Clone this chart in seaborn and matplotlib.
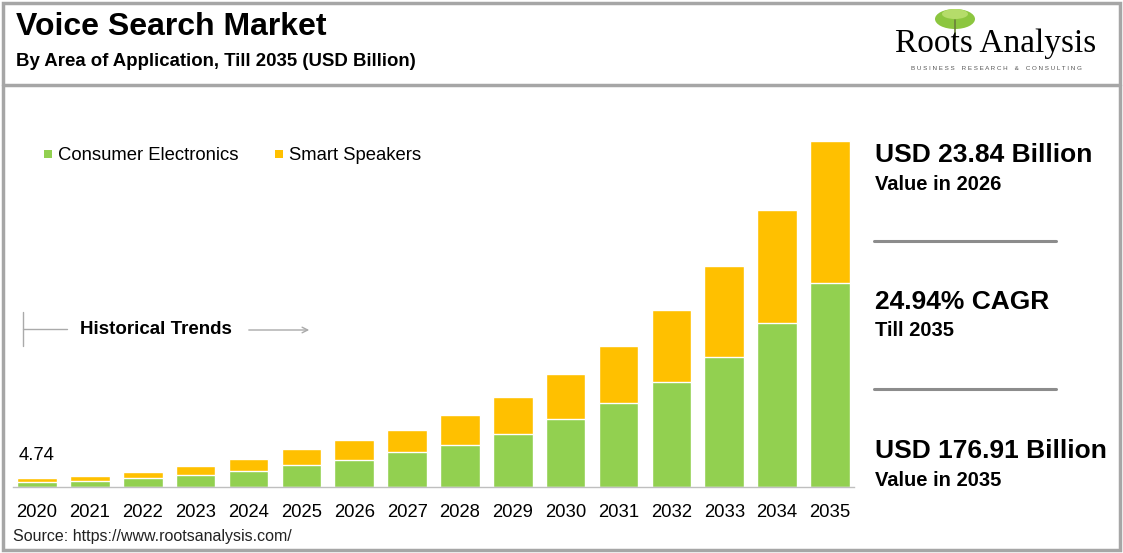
import numpy as np
import pandas as pd
import matplotlib.pyplot as plt
import seaborn as sns
from matplotlib.patches import Rectangle, Ellipse
from matplotlib.lines import Line2D

# dados (USD bilhoes)
years = [str(y) for y in range(2020, 2036)]
consumer_electronics = [2.7, 3.3, 4.8, 6.3, 8.4, 11.5, 14.0, 17.7, 21.6, 27.3, 34.6, 42.8, 53.5, 66.6, 83.7, 104.5]
smart_speakers = [2.04, 2.3, 2.9, 4.3, 5.8, 7.8, 9.84, 11.4, 15.2, 18.7, 23.2, 29.3, 37.0, 46.4, 57.9, 72.41]
first_label = '4.74'

green = '#92D050'
gold = '#FFC000'

df = pd.DataFrame({'Ano': years,
                   'Consumer Electronics': consumer_electronics,
                   'Smart Speakers': smart_speakers})
df['Total'] = df['Consumer Electronics'] + df['Smart Speakers']

sns.set_style('white')
plt.rcParams['font.family'] = ['Liberation Sans', 'DejaVu Sans']
plt.rcParams['text.color'] = 'black'

W, H = 1123, 553
fig = plt.figure(figsize=(W / 100, H / 100), dpi=100)

def fx(px):
    return px / W

def fy(py):
    return 1 - py / H

ax = fig.add_axes([fx(13.2), fy(487), fx(853.8 - 13.2), (487 - 130) / H])
sns.barplot(data=df, x='Ano', y='Total', color=gold, width=0.75, saturation=1,
            edgecolor='white', linewidth=1, ax=ax)
sns.barplot(data=df, x='Ano', y='Consumer Electronics', color=green, width=0.75, saturation=1,
            edgecolor='white', linewidth=1, ax=ax)
ax.set_xlim(-0.45, 15.45)
ax.set_ylim(0, 182.5)
ax.set_xlabel('')
ax.set_ylabel('')
ax.set_yticks([])
for s in ['top', 'right', 'left']:
    ax.spines[s].set_visible(False)
ax.spines['bottom'].set_color('#BFBFBF')
ax.spines['bottom'].set_linewidth(1)
ax.tick_params(axis='x', length=0, pad=12, labelsize=13.3, labelcolor='black')
ax.patch.set_alpha(0)

ax.annotate(first_label, (0, df['Total'].iloc[0]), xytext=(0, 10), textcoords='offset points',
            ha='center', va='bottom', fontsize=13.3)

# legenda
fig.patches.append(Rectangle((fx(44), fy(158)), fx(8), 8 / H, transform=fig.transFigure,
                             facecolor=green, edgecolor='none'))
fig.text(fx(58), fy(155), 'Consumer Electronics', fontsize=13.3, va='center')
fig.patches.append(Rectangle((fx(275), fy(158)), fx(8), 8 / H, transform=fig.transFigure,
                             facecolor=gold, edgecolor='none'))
fig.text(fx(289), fy(155), 'Smart Speakers', fontsize=13.3, va='center')

# historical trends
gray = '#AAAAAA'
fig.add_artist(Line2D([fx(23), fx(23)], [fy(312), fy(346)], color=gray, lw=1))
fig.add_artist(Line2D([fx(23), fx(67)], [fy(329), fy(329)], color=gray, lw=1))
fig.text(fx(80), fy(329), 'Historical Trends', fontsize=13.5, fontweight='bold', va='center')
ax.annotate('', xy=(fx(312), fy(330)), xytext=(fx(246), fy(330)), xycoords='figure fraction',
            arrowprops=dict(arrowstyle='->', color=gray, lw=1))

# titulo
fig.text(fx(16), fy(27), 'Voice Search Market', fontsize=23, fontweight='bold', va='center')
fig.text(fx(16), fy(62), 'By Area of Application, Till 2035 (USD Billion)', fontsize=13.4,
         fontweight='bold', va='center')

# logo
fig.add_artist(Line2D([fx(955), fx(955)], [fy(20), fy(40)], color='#6B7F3A', lw=1.2))
fig.patches.append(Ellipse((fx(955), fy(19)), fx(40), 20 / H, transform=fig.transFigure,
                           facecolor='#8CC63F', edgecolor='none'))
fig.patches.append(Ellipse((fx(955), fy(14)), fx(26), 10 / H, transform=fig.transFigure,
                           facecolor='#B5DC6A', edgecolor='none'))
fig.text(fx(996), fy(44), 'Roots Analysis', fontsize=24, family='Liberation Serif',
         ha='center', va='center')
fig.text(fx(996), fy(69), ' '.join('BUSINESS RESEARCH & CONSULTING').replace('   ', '    '),
         fontsize=4.5, color='#555555', ha='center', va='center')

# painel direito
fig.text(fx(875), fy(155), 'USD 23.84 Billion', fontsize=19, fontweight='bold', va='center')
fig.text(fx(875), fy(184), 'Value in 2026', fontsize=14.5, fontweight='bold', va='center')
fig.add_artist(Line2D([fx(874), fx(1056)], [fy(241), fy(241)], color='#8C8C8C', lw=2.2))
fig.text(fx(875), fy(302), '24.94% CAGR', fontsize=19, fontweight='bold', va='center')
fig.text(fx(875), fy(331), 'Till 2035', fontsize=14.5, fontweight='bold', va='center')
fig.add_artist(Line2D([fx(874), fx(1056)], [fy(389), fy(389)], color='#8C8C8C', lw=2.2))
fig.text(fx(875), fy(451), 'USD 176.91 Billion', fontsize=19, fontweight='bold', va='center')
fig.text(fx(875), fy(480), 'Value in 2035', fontsize=14.5, fontweight='bold', va='center')

# fonte
fig.text(fx(13), fy(536), 'Source: https://www.rootsanalysis.com/', fontsize=11.5, va='center',
         color='#222222')

# bordas
fig.patches.append(Rectangle((fx(3), fy(550)), fx(1117), 547 / H, transform=fig.transFigure,
                             facecolor='none', edgecolor='#A6A6A6', lw=2.5))
fig.add_artist(Line2D([fx(3), fx(1120)], [fy(85), fy(85)], color='#A6A6A6', lw=2.5))

plt.savefig('out.png', dpi=100)
